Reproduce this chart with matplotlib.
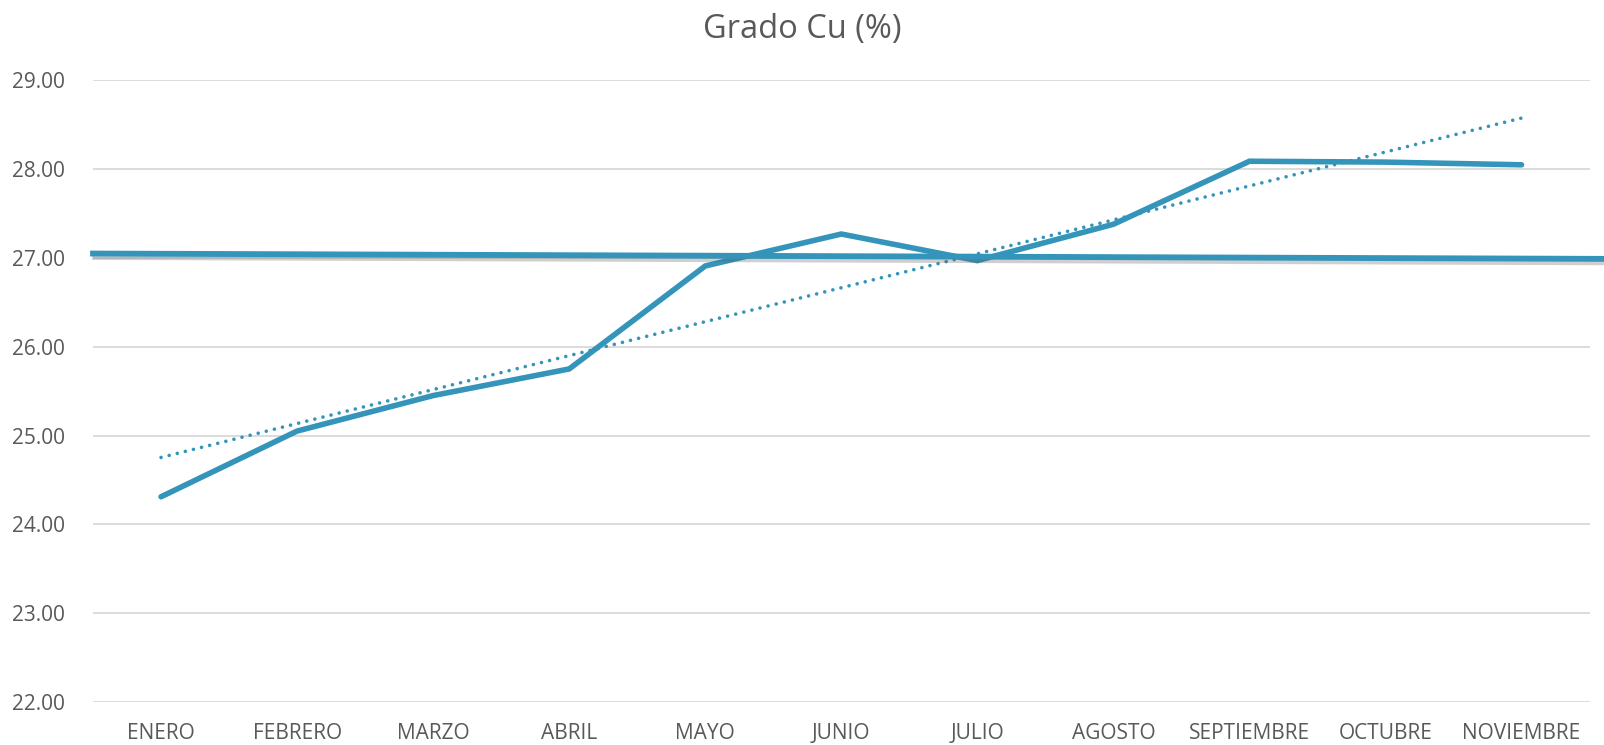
# Grado Cu (%) - monthly line chart with linear trend
import numpy as np
import matplotlib.pyplot as plt
import matplotlib.patheffects as pe

# Data
months = ["ENERO", "FEBRERO", "MARZO", "ABRIL", "MAYO", "JUNIO",
          "JULIO", "AGOSTO", "SEPTIEMBRE", "OCTUBRE", "NOVIEMBRE"]
grado_cu = [24.31, 25.05, 25.45, 25.75, 26.91, 27.27, 26.97, 27.38, 28.09, 28.08, 28.05]
ref_line = [27.05, 26.99]   # drawn reference line (start, end)
y_ticks = [22, 23, 24, 25, 26, 27, 28, 29]

plt.rcParams['font.family'] = ['Open Sans', 'DejaVu Sans']
blue = '#3494BA'
grey_txt = '#595959'

fig = plt.figure(figsize=(16.04, 7.45), dpi=100)
ax = fig.add_axes([0.058, 0.058, 0.933, 0.834])

x = np.arange(len(months))

# Main series
ax.plot(x, grado_cu, color=blue, lw=4.0, solid_capstyle='round',
        solid_joinstyle='miter', zorder=3)

# Linear trendline
slope, intercept = np.polyfit(x, grado_cu, 1)
ax.plot(x, slope * x + intercept, color=blue, lw=2.6, linestyle=(0, (0.01, 2.3)),
        dash_capstyle='round', zorder=2)

# Horizontal reference line with soft shadow, spans to the figure edge
ax.plot([0, 1.0094], ref_line, color=blue, lw=4.2, transform=ax.get_yaxis_transform(),
        clip_on=False, zorder=4,
        path_effects=[pe.SimpleLineShadow(offset=(1.5, -2.5), shadow_color='#606060', alpha=0.3),
                      pe.Normal()])

ax.set_xlim(-0.5, len(months) - 0.5)
ax.set_ylim(22, 29)
ax.set_yticks(y_ticks)
ax.set_yticklabels([f"{v:.2f}" for v in y_ticks])
ax.set_xticks(x)
ax.set_xticklabels(months)
ax.grid(axis='y', color='#d9d9d9', lw=1.3)
ax.set_axisbelow(True)
for s in ax.spines.values():
    s.set_visible(False)
ax.tick_params(axis='both', length=0, labelsize=15, labelcolor=grey_txt)
ax.tick_params(axis='y', pad=20)
ax.tick_params(axis='x', pad=15)

fig.text(0.5, 0.96, "Grado Cu (%)", ha='center', va='center', fontsize=23.5, color=grey_txt)

fig.savefig("out.png", dpi=100)
